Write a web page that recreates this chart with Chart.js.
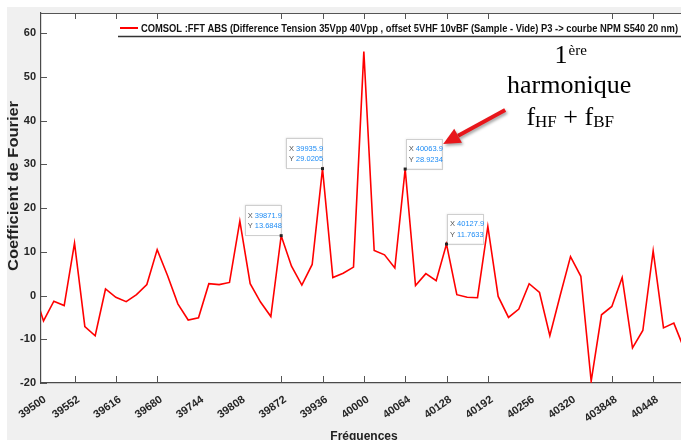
<!DOCTYPE html>
<html>
<head>
<meta charset="utf-8">
<script src="https://cdn.jsdelivr.net/npm/chart.js@4.4.0/dist/chart.umd.min.js"></script>
<style>
body { margin: 0; background: #f0f0f0; overflow: hidden; }
canvas { display: block; }
</style>
</head>
<body>
<canvas id="fftChart" width="681" height="440"></canvas>
<script>
// FFT spectrum, one point every 16 Hz (the first and last fall outside the axes)
var frequences = [
  39487.9, 39503.9, 39519.9, 39535.9, 39551.9, 39567.9, 39583.9, 39599.9,
  39615.9, 39631.9, 39647.9, 39663.9, 39679.9, 39695.9, 39711.9, 39727.9,
  39743.9, 39759.9, 39775.9, 39791.9, 39807.9, 39823.9, 39839.9, 39855.9,
  39871.9, 39887.9, 39903.9, 39919.9, 39935.9, 39951.9, 39967.9, 39983.9,
  39999.9, 40015.9, 40031.9, 40047.9, 40063.9, 40079.9, 40095.9, 40111.9,
  40127.9, 40143.9, 40159.9, 40175.9, 40191.9, 40207.9, 40223.9, 40239.9,
  40255.9, 40271.9, 40287.9, 40303.9, 40319.9, 40335.9, 40351.9, 40367.9,
  40383.9, 40399.9, 40415.9, 40431.9, 40447.9, 40463.9, 40479.9, 40495.9
];
var coefficients = [
  1.5, -5.8, -1.3, -2.3, 12.0, -7.1, -9.2, 1.5,
  -0.4, -1.4, 0.2, 2.5, 10.5, 4.6, -1.9, -5.6,
  -5.1, 2.7, 2.5, 3.0, 17.0, 2.7, -1.5, -4.8,
  13.6848, 6.7, 2.4, 7.1, 29.0205, 4.1, 5.1, 6.5,
  55.8, 10.3, 9.3, 6.3, 28.9234, 2.3, 5.0, 3.4,
  11.7633, 0.2, -0.4, -0.5, 15.8, -0.2, -5.0, -3.1,
  2.7, 0.7, -9.2, 0.0, 8.9, 4.4, -19.6, -4.4,
  -2.5, 4.1, -12.0, -8.0, 10.2, -7.4, -6.3, -12.2
];

var xTickValues = [39500, 39552, 39616, 39680, 39744, 39808, 39872, 39936,
  40000, 40064, 40128, 40192, 40256, 40320, 40384, 40448];
var xTickLabels = ['39500', '39552', '39616', '39680', '39744', '39808', '39872', '39936',
  '40000', '40064', '40128', '40192', '40256', '40320', '403848', '40448'];
// tick marks only show at these positions in the original
var xTickMarks = [39552, 39616, 39680, 39872, 39936, 40000, 40064, 40128, 40192, 40384, 40448];
var yTickValues = [-20, -10, 0, 10, 20, 30, 40, 50, 60];

var tipFreqs = [39871.9, 39935.9, 40063.9, 40127.9];
var tipValues = [13.6848, 29.0205, 28.9234, 11.7633];
var tipSides = ['left', 'left', 'right', 'right'];

var legendLabel = 'COMSOL :FFT ABS (Difference Tension 35Vpp 40Vpp , offset 5VHF 10vBF (Sample - Vide) P3 -> courbe NPM S540 20 nm)';

var SANS = "'Liberation Sans', Arial, sans-serif";
var SERIF = "'Liberation Serif', 'Times New Roman', serif";

function fitText(c, txt, x, y, width) {
  var w = c.measureText(txt).width;
  c.save();
  c.translate(x, y);
  c.scale(width / w, 1);
  c.fillText(txt, 0, 0);
  c.restore();
}

var matlabLook = {
  id: 'matlabLook',
  beforeDraw: function (chart) {
    var c = chart.ctx, a = chart.chartArea;
    c.save();
    c.fillStyle = '#f0f0f0';
    c.fillRect(0, 0, chart.width, chart.height);
    c.fillStyle = '#ffffff';
    c.fillRect(0, 0, chart.width, 7);
    c.fillRect(0, 0, 7, chart.height);
    c.fillRect(a.left, a.top, a.right - a.left, a.bottom - a.top);
    c.restore();
  },
  afterDraw: function (chart) {
    var c = chart.ctx, a = chart.chartArea;
    var xs = chart.scales.x, ys = chart.scales.y;
    c.save();

    // box top line and inward ticks
    c.strokeStyle = '#555';
    c.lineWidth = 1;
    c.beginPath();
    c.moveTo(a.left, a.top + 0.5);
    c.lineTo(a.right, a.top + 0.5);
    xTickMarks.forEach(function (v) {
      var px = Math.round(xs.getPixelForValue(v)) + 0.5;
      c.moveTo(px, a.bottom);
      c.lineTo(px, a.bottom - 7);
      c.moveTo(px, a.top);
      c.lineTo(px, a.top + 6);
    });
    yTickValues.forEach(function (v) {
      var py = Math.round(ys.getPixelForValue(v)) + 0.5;
      c.moveTo(a.left, py);
      c.lineTo(a.left + 6, py);
    });
    c.stroke();

    // legend
    c.fillStyle = '#ffffff';
    c.fillRect(118, 20, a.right - 118, 16);
    c.strokeStyle = '#333';
    c.lineWidth = 1.5;
    c.beginPath();
    c.moveTo(118, 36.5);
    c.lineTo(a.right, 36.5);
    c.stroke();
    c.strokeStyle = '#ff0000';
    c.lineWidth = 2;
    c.beginPath();
    c.moveTo(120, 28);
    c.lineTo(138, 28);
    c.stroke();
    c.fillStyle = '#111';
    c.font = 'bold 10.5px ' + SANS;
    c.textBaseline = 'alphabetic';
    fitText(c, legendLabel, 141, 31.8, 537);

    // data tips
    tipFreqs.forEach(function (f, i) {
      var px = xs.getPixelForValue(f), py = ys.getPixelForValue(tipValues[i]);
      var w = 36, h = 30;
      var bx = tipSides[i] === 'left' ? px - w - 0.5 : px + 0.5;
      var by = py - h - 0.5;
      c.save();
      c.shadowColor = 'rgba(0,0,0,0.18)';
      c.shadowBlur = 2;
      c.fillStyle = '#ffffff';
      c.fillRect(bx, by, w, h);
      c.restore();
      c.strokeStyle = '#cfcfcf';
      c.lineWidth = 1;
      c.strokeRect(Math.round(bx) + 0.5, Math.round(by) + 0.5, w, h);
      c.font = '7.5px ' + SANS;
      c.textBaseline = 'middle';
      var rows = [['X ', f.toFixed(1)], ['Y ', tipValues[i].toFixed(4)]];
      rows.forEach(function (r, k) {
        var ty = by + 10.5 + k * 10.5;
        c.fillStyle = '#555';
        c.fillText(r[0], bx + 3, ty);
        c.fillStyle = '#1e8cf5';
        c.fillText(r[1], bx + 3 + c.measureText(r[0]).width, ty);
      });
      c.fillStyle = '#222';
      c.fillRect(px - 1.5, py - 1.5, 3, 3);
    });

    // axis titles
    c.fillStyle = '#222';
    c.font = 'bold 14px ' + SANS;
    c.textBaseline = 'middle';
    c.save();
    c.translate(14.5, 186);
    c.rotate(-Math.PI / 2);
    var tw = c.measureText('Coefficient de Fourier').width;
    c.scale(170 / tw, 1);
    c.textAlign = 'center';
    c.fillText('Coefficient de Fourier', 0, 0);
    c.restore();
    c.font = 'bold 12px ' + SANS;
    c.textAlign = 'center';
    c.textBaseline = 'alphabetic';
    c.fillText('Fréquences', (a.left + a.right) / 2 + 3, 439.5);

    // annotation on the first harmonic
    var ax = xs.getPixelForValue(tipFreqs[2]), ay = ys.getPixelForValue(tipValues[2]);
    var cx = ax + 164;
    c.fillStyle = '#000';
    c.textAlign = 'left';
    c.font = '26px ' + SERIF;
    var w1 = c.measureText('1').width;
    c.font = '15px ' + SERIF;
    var w2 = c.measureText('ère').width;
    var sx = cx - (w1 + w2) / 2 + 1;
    c.font = '26px ' + SERIF;
    c.fillText('1', sx, ay - 106);
    c.font = '15px ' + SERIF;
    c.fillText('ère', sx + w1 + 1, ay - 114);
    c.font = '26px ' + SERIF;
    c.textAlign = 'center';
    c.fillText('harmonique', cx, ay - 76.5);
    c.textAlign = 'left';
    var parts = [['f', 26, 0], ['HF', 17, 2], [' + ', 26, 0], ['f', 26, 0], ['BF', 17, 2]];
    var total = 0;
    parts.forEach(function (p) { c.font = p[1] + 'px ' + SERIF; total += c.measureText(p[0]).width; });
    var px0 = cx - total / 2 + 1;
    parts.forEach(function (p) {
      c.font = p[1] + 'px ' + SERIF;
      c.fillText(p[0], px0, ay - 44 + p[2]);
      px0 += c.measureText(p[0]).width;
    });

    // red arrow
    var tipX = ax + 38, tipY = ay - 25, tailX = ax + 100, tailY = ay - 59;
    var ang = Math.atan2(tipY - tailY, tipX - tailX);
    var hl = 17, hw = 8;
    var bX = tipX - hl * Math.cos(ang), bY = tipY - hl * Math.sin(ang);
    c.save();
    c.shadowColor = 'rgba(0,0,0,0.35)';
    c.shadowBlur = 3;
    c.shadowOffsetX = 1.5;
    c.shadowOffsetY = 2;
    c.strokeStyle = '#e8161b';
    c.fillStyle = '#e8161b';
    c.lineWidth = 4;
    c.beginPath();
    c.moveTo(tailX, tailY);
    c.lineTo(bX, bY);
    c.stroke();
    c.beginPath();
    c.moveTo(tipX, tipY);
    c.lineTo(bX + hw * Math.sin(ang), bY - hw * Math.cos(ang));
    c.lineTo(bX - hw * Math.sin(ang), bY + hw * Math.cos(ang));
    c.closePath();
    c.fill();
    c.restore();

    c.restore();
  }
};

var points = frequences.map(function (f, i) { return { x: f, y: coefficients[i] }; });
var ctx = document.getElementById('fftChart').getContext('2d');
var fftChart = new Chart(ctx, {
  type: 'line',
  data: {
    datasets: [{
      label: legendLabel,
      data: points,
      borderColor: '#ff0000',
      borderWidth: 1.6,
      pointRadius: 0,
      tension: 0,
      fill: false
    }]
  },
  options: {
    responsive: false,
    animation: false,
    layout: { padding: { top: 13, right: 0, bottom: 0, left: 0 } },
    plugins: {
      legend: { display: false },
      tooltip: { enabled: false }
    },
    scales: {
      x: {
        type: 'linear',
        min: 39500,
        max: 40491,
        afterBuildTicks: function (s) {
          s.ticks = xTickValues.map(function (v) { return { value: v }; });
        },
        afterFit: function (s) {
          s.height = 57;
          s.paddingLeft = 0;
          s.paddingRight = 0;
        },
        grid: { display: false, drawTicks: false },
        border: { display: true, color: '#4a4a4a', width: 1.2 },
        ticks: {
          autoSkip: false,
          minRotation: 35,
          maxRotation: 35,
          padding: 10,
          labelOffset: 4,
          color: '#262626',
          font: { family: SANS, size: 11, weight: 'bold' },
          callback: function (v, i) { return xTickLabels[i]; }
        }
      },
      y: {
        min: -20,
        max: 64.6,
        afterBuildTicks: function (s) {
          s.ticks = yTickValues.map(function (v) { return { value: v }; });
        },
        afterFit: function (s) {
          s.width = 41;
          s.paddingTop = 0;
          s.paddingBottom = 0;
        },
        grid: { display: false, drawTicks: false },
        border: { display: true, color: '#4a4a4a', width: 1.2 },
        ticks: {
          padding: 5,
          color: '#262626',
          font: { family: SANS, size: 11, weight: 'bold' }
        }
      }
    }
  },
  plugins: [matlabLook]
});
</script>
</body>
</html>
